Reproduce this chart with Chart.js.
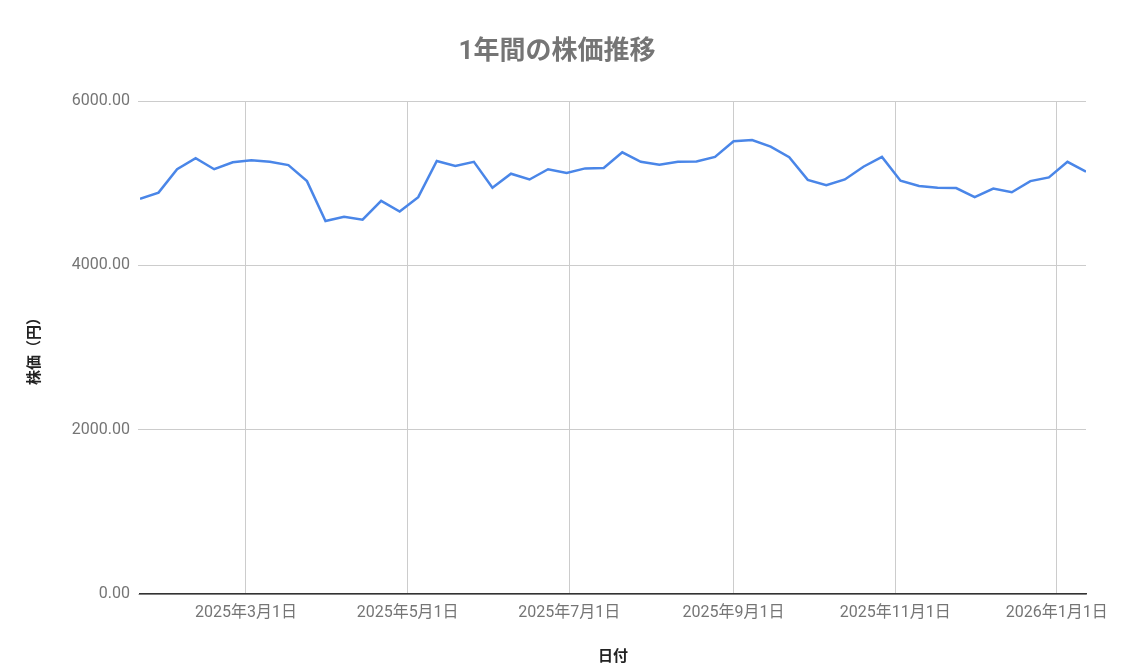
<!DOCTYPE html>
<html lang="ja">
  <head>
    <meta charset="UTF-8" />
    <title>1年間の株価推移</title>
    <style>
      html, body { margin: 0; padding: 0; background: #fff; }
      .wrap { width: 1147px; height: 672px; position: relative; }
    </style>
  </head>
  <body>
    <div class="wrap">
      <canvas id="stockChart" width="1147" height="672"></canvas>
    </div>

    <script src="https://cdn.jsdelivr.net/npm/chart.js@4.4.1/dist/chart.umd.min.js"></script>
    <script>
      // weekly closing dates
      var dates = [
        "2025-01-20", "2025-01-27", "2025-02-03", "2025-02-10", "2025-02-17", "2025-02-24",
        "2025-03-03", "2025-03-10", "2025-03-17", "2025-03-24", "2025-03-31",
        "2025-04-07", "2025-04-14", "2025-04-21", "2025-04-28",
        "2025-05-05", "2025-05-12", "2025-05-19", "2025-05-26",
        "2025-06-02", "2025-06-09", "2025-06-16", "2025-06-23", "2025-06-30",
        "2025-07-07", "2025-07-14", "2025-07-21", "2025-07-28",
        "2025-08-04", "2025-08-11", "2025-08-18", "2025-08-25",
        "2025-09-01", "2025-09-08", "2025-09-15", "2025-09-22", "2025-09-29",
        "2025-10-06", "2025-10-13", "2025-10-20", "2025-10-27",
        "2025-11-03", "2025-11-10", "2025-11-17", "2025-11-24",
        "2025-12-01", "2025-12-08", "2025-12-15", "2025-12-22", "2025-12-29",
        "2026-01-05", "2026-01-12"
      ];

      // 株価（円）
      var prices = [
        4810, 4885, 5170, 5305, 5170, 5255,
        5280, 5260, 5220, 5025, 4540,
        4590, 4555, 4785, 4655,
        4830, 5270, 5210, 5260,
        4945, 5115, 5045, 5170, 5125,
        5180, 5185, 5375, 5260,
        5225, 5260, 5265, 5320,
        5510, 5525, 5445, 5315, 5040,
        4975, 5045, 5200, 5320,
        5030, 4965, 4945, 4940,
        4830, 4935, 4890, 5025, 5070,
        5260, 5140
      ];

      // x axis tick labels (first day of every other month)
      var tickDates = [
        "2025-03-01", "2025-05-01", "2025-07-01",
        "2025-09-01", "2025-11-01", "2026-01-01"
      ];

      var yTicks = [0, 2000, 4000, 6000];

      function dayNum(s) {
        var p = s.split("-");
        return Date.UTC(+p[0], +p[1] - 1, +p[2]) / 86400000;
      }

      function dayLabel(d) {
        var dt = new Date(d * 86400000);
        return dt.getUTCFullYear() + "年" + (dt.getUTCMonth() + 1) + "月" + dt.getUTCDate() + "日";
      }

      var points = [];
      for (let i = 0; i < dates.length; i++) {
        points.push({ x: dayNum(dates[i]), y: prices[i] });
      }

      // title is placed a bit left of the canvas centre, like the original
      var titlePlugin = {
        id: "titlePlugin",
        afterDraw: function (chart) {
          var ctx = chart.ctx;
          ctx.save();
          ctx.font = "bold 26px Roboto, 'Noto Sans CJK JP', sans-serif";
          ctx.fillStyle = "#757575";
          ctx.textAlign = "center";
          ctx.textBaseline = "middle";
          ctx.fillText("1年間の株価推移", 557, 52);
          ctx.restore();
        },
      };

      Chart.defaults.font.family = "Roboto, 'Noto Sans CJK JP', sans-serif";

      var ctx = document.getElementById("stockChart").getContext("2d");
      var myChart = new Chart(ctx, {
        type: "line",
        data: {
          datasets: [
            {
              label: "株価",
              data: points,
              borderColor: "#4a86e8",
              backgroundColor: "#4a86e8",
              borderWidth: 2.5,
              pointRadius: 0,
              tension: 0,
            },
          ],
        },
        plugins: [titlePlugin],
        options: {
          responsive: false,
          animation: false,
          layout: { padding: { top: 101, right: 61, left: 0, bottom: 0 } },
          plugins: {
            legend: { display: false },
            tooltip: { enabled: false },
          },
          scales: {
            x: {
              type: "linear",
              min: dayNum(dates[0]),
              max: dayNum(dates[dates.length - 1]),
              afterBuildTicks: function (scale) {
                scale.ticks = tickDates.map(function (s) { return { value: dayNum(s) }; });
              },
              afterFit: function (scale) { scale.height = 78; },
              ticks: {
                autoSkip: false,
                maxRotation: 0,
                padding: 9,
                color: "#757575",
                font: { size: 16 },
                callback: function (v) { return dayLabel(v); },
              },
              grid: { color: "#cccccc", drawTicks: false },
              border: { display: true, color: "#333333", width: 1.5 },
              title: {
                display: true,
                text: "日付",
                color: "#222222",
                font: { size: 15, weight: "bold" },
                padding: { top: 0, bottom: 6 },
              },
            },
            y: {
              min: 0,
              max: 6000,
              afterBuildTicks: function (scale) {
                scale.ticks = yTicks.map(function (v) { return { value: v }; });
              },
              afterFit: function (scale) { scale.width = 140; },
              ticks: {
                padding: 8,
                color: "#757575",
                font: { size: 16 },
                callback: function (v) { return v.toFixed(2); },
              },
              grid: { color: "#cccccc", tickLength: 2 },
              border: { display: false },
              title: {
                display: true,
                text: "株価（円）",
                color: "#222222",
                font: { size: 15, weight: "bold" },
                padding: { top: 26, bottom: 0 },
              },
            },
          },
        },
      });
    </script>
  </body>
</html>
